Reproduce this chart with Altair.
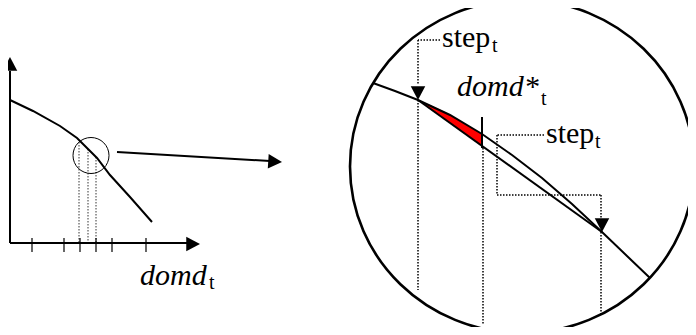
import altair as alt
import pandas as pd

# ---------------- data (image coordinates, y grows downward) ----------------
# left panel: demand curve
left_curve_x = [10, 33, 60, 77, 87, 97, 110, 130, 152]
left_curve_y = [100, 111, 126, 138, 148, 158, 175, 197, 222]

# zoomed panel: demand curve
zoom_curve_x = [373, 395, 418, 450, 482, 512, 542, 572, 602, 627, 650]
zoom_curve_y = [83, 91, 100, 115, 134, 155, 178, 204, 232, 256, 278]

# red wedge between curve (top) and chord (bottom)
wedge_x = [418, 430, 445, 460, 470, 482]
wedge_top = [100, 105, 112, 121, 127, 134]
wedge_bottom = [100, 109, 119, 130, 137, 146]

# solid segments: x, y, x2, y2
solid_x1 = [10, 10, 117, 418, 482]
solid_y1 = [71, 243, 152, 100, 117]
solid_x2 = [10, 187, 270, 602, 482]
solid_y2 = [243, 243, 161, 232, 148]

# axis ticks (left panel)
tick_x = [32, 64, 80, 96, 112, 146]
tick_top = 238
tick_bottom = 252

# dotted segments: left panel (thin)
dot_left_x = [79, 88, 96]
dot_left_top = [142, 149, 157]
dot_left_bottom = [243, 243, 243]

# dotted segments: zoomed panel
dot_x1 = [440, 418, 418, 483, 544, 497, 497, 601, 601]
dot_y1 = [40, 40, 100, 148, 135, 135, 195, 195, 232]
dot_x2 = [418, 418, 418, 483, 497, 497, 601, 601, 601]
dot_y2 = [40, 85, 290, 325, 135, 195, 195, 218, 315]

# small circle (left): centre x, centre y, diameter
small_cx, small_cy, small_d = 91, 155.5, 36
# big oval (right): centre x, centre y, horizontal diameter
big_cx, big_cy, big_d = 522, 166.5, 344

# arrowheads: tip x, tip y, direction angle (0 = down, clockwise)
arrow_x = [10, 200, 282, 418, 602]
arrow_y = [57, 244, 162, 100, 232]
arrow_angle = [180, 270, 273.5, 0, 0]

# labels
main_text = ["domd", "domd*", "step", "step"]
main_italic = [True, True, False, False]
main_x = [140, 457, 442, 546]
main_y = [285, 96, 47, 143]
sub_text = ["t", "t", "t", "t"]
sub_x = [209, 541, 492, 595]
sub_y = [289, 105, 52, 148]

# ---------------- chart ----------------
W, H = 680, 319
xs = alt.Scale(domain=[8, 8 + W], nice=False, zero=False)
ys = alt.Scale(domain=[8, 8 + H], reverse=True, nice=False, zero=False)


def X(f):
    return alt.X(f, type="quantitative", scale=xs, axis=None)


def Y(f):
    return alt.Y(f, type="quantitative", scale=ys, axis=None)


curves = pd.DataFrame(
    {
        "x": left_curve_x + zoom_curve_x,
        "y": left_curve_y + zoom_curve_y,
        "id": ["l"] * len(left_curve_x) + ["z"] * len(zoom_curve_x),
        "i": list(range(len(left_curve_x))) + list(range(len(zoom_curve_x))),
    }
)
wedge = pd.DataFrame({"x": wedge_x, "y": wedge_top, "y2": wedge_bottom})
solid = pd.DataFrame({"x": solid_x1, "y": solid_y1, "x2": solid_x2, "y2": solid_y2})
ticks = pd.DataFrame(
    {"x": tick_x, "y": [tick_top] * len(tick_x), "y2": [tick_bottom] * len(tick_x)}
)
dots_left = pd.DataFrame({"x": dot_left_x, "y": dot_left_top, "y2": dot_left_bottom})
dots = pd.DataFrame({"x": dot_x1, "y": dot_y1, "x2": dot_x2, "y2": dot_y2})
small_circle = pd.DataFrame({"x": [small_cx], "y": [small_cy]})
big_circle = pd.DataFrame({"x": [big_cx], "y": [big_cy]})
arrows = pd.DataFrame({"x": arrow_x, "y": arrow_y, "a": arrow_angle})
mains = pd.DataFrame({"t": main_text, "x": main_x, "y": main_y, "it": main_italic})
subs = pd.DataFrame({"t": sub_text, "x": sub_x, "y": sub_y})

FONT = "Liberation Serif"

small_circle_layer = (
    alt.Chart(small_circle)
    .mark_point(shape="circle", filled=False, color="black", opacity=1,
                size=small_d * small_d, strokeWidth=1)
    .encode(x=X("x"), y=Y("y"))
)

oval_path = "M-1,0A1,0.968,0,1,0,1,0A1,0.968,0,1,0,-1,0Z"
big_circle_layer = (
    alt.Chart(big_circle)
    .mark_point(shape=oval_path, filled=False, color="black", opacity=1,
                size=big_d * big_d, strokeWidth=2.6)
    .encode(x=X("x"), y=Y("y"))
)

wedge_layer = (
    alt.Chart(wedge)
    .mark_area(color="#ff0000", opacity=1)
    .encode(x=X("x"), y=Y("y"), y2="y2")
)

curve_layer = (
    alt.Chart(curves)
    .mark_line(color="black", strokeWidth=2)
    .encode(x=X("x"), y=Y("y"), detail="id:N", order="i:Q")
)

solid_layer = (
    alt.Chart(solid)
    .mark_rule(color="black", strokeWidth=2)
    .encode(x=X("x"), y=Y("y"), x2="x2", y2="y2")
)

tick_layer = (
    alt.Chart(ticks)
    .mark_rule(color="black", strokeWidth=1.2)
    .encode(x=X("x"), y=Y("y"), y2="y2")
)

dots_left_layer = (
    alt.Chart(dots_left)
    .mark_rule(color="black", strokeWidth=0.8, strokeDash=[1.5, 1.5])
    .encode(x=X("x"), y=Y("y"), y2="y2")
)

dots_layer = (
    alt.Chart(dots)
    .mark_rule(color="black", strokeWidth=1.5, strokeDash=[1.5, 1.5])
    .encode(x=X("x"), y=Y("y"), x2="x2", y2="y2")
)

arrow_layer = (
    alt.Chart(arrows)
    .mark_point(
        shape="M0,0L-1,-1.9L1,-1.9Z", filled=True, color="black", opacity=1, size=210
    )
    .encode(x=X("x"), y=Y("y"), angle=alt.Angle("a:Q", scale=None))
)

main_italic_layer = (
    alt.Chart(mains)
    .transform_filter("datum.it")
    .mark_text(
        font=FONT, fontSize=30, fontStyle="italic", align="left", baseline="alphabetic", color="black"
    )
    .encode(x=X("x"), y=Y("y"), text="t:N")
)

main_normal_layer = (
    alt.Chart(mains)
    .transform_filter("!datum.it")
    .mark_text(font=FONT, fontSize=30, align="left", baseline="alphabetic", color="black")
    .encode(x=X("x"), y=Y("y"), text="t:N")
)

sub_layer = (
    alt.Chart(subs)
    .mark_text(font=FONT, fontSize=20, align="left", baseline="alphabetic", color="black")
    .encode(x=X("x"), y=Y("y"), text="t:N")
)

chart = (
    alt.layer(
        big_circle_layer,
        small_circle_layer,
        wedge_layer,
        curve_layer,
        solid_layer,
        tick_layer,
        dots_left_layer,
        dots_layer,
        arrow_layer,
        main_italic_layer,
        main_normal_layer,
        sub_layer,
    )
    .properties(width=W, height=H, padding=0, autosize=alt.AutoSizeParams(type="none"), background="white")
    .configure_view(stroke=None)
)

chart.save("out.html", embed_options={"renderer": "svg", "actions": False})
